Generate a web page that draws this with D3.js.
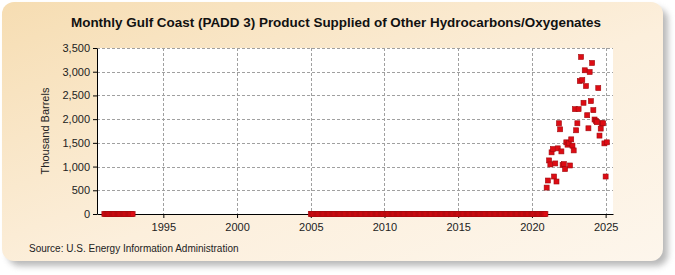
<!DOCTYPE html>
<html>
<head>
<meta charset="utf-8">
<script src="https://cdn.jsdelivr.net/npm/d3@7"></script>
<style>
  body { margin: 0; background: #fff; }
  text { font-family: Arial, "Liberation Sans", sans-serif; }
</style>
</head>
<body>
<div id="chart"></div>
<script>
// zero-valued stretches (monthly), then the recent monthly values (Jan 2021 - Feb 2025)
var zeroSpans = [[1991, 1992], [2005, 2020]];
var recentStart = 2021;
var recentValues = [
  557, 706, 1130, 1045, 1300, 1370, 790, 1066, 685, 1384, 1913, 1786,
  1320, 1031, 1053, 947, 1511, 1462, 1498, 1023, 1574, 1441, 1341, 2210,
  1765, 1913, 2210, 2803, 3311, 2824, 2345, 3030, 2698, 2083, 1807, 2994,
  2380, 3184, 2189, 1992, 1964, 1935, 2655, 1653, 1801, 1913, 1913, 1489,
  790, 1511
];
var xTicks = [1995, 2000, 2005, 2010, 2015, 2020, 2025];
var yTicks = [0, 500, 1000, 1500, 2000, 2500, 3000, 3500];

var width = 675, height = 275;
var margin = {left: 97, right: 62, top: 48, bottom: 61};

// build the point list: t is a fractional year (month start)
var points = [];
zeroSpans.forEach(function (s) {
  for (var y = s[0]; y <= s[1]; y++) {
    for (var m = 0; m < 12; m++) points.push({t: y + m / 12, v: 0});
  }
});
recentValues.forEach(function (v, i) {
  points.push({t: recentStart + i / 12, v: v});
});

var svg = d3.select('#chart').append('svg')
    .attr('width', width)
    .attr('height', height);

var defs = svg.append('defs');
var grad = defs.append('linearGradient').attr('id', 'bg')
    .attr('x1', '0%').attr('y1', '0%').attr('x2', '100%').attr('y2', '100%');
grad.append('stop').attr('offset', '0%').attr('stop-color', '#f6ddb2');
grad.append('stop').attr('offset', '55%').attr('stop-color', '#fcefdc');
grad.append('stop').attr('offset', '100%').attr('stop-color', '#fdf6ec');
var blur = defs.append('filter').attr('id', 'shadow')
    .attr('x', '-5%').attr('y', '-5%').attr('width', '115%').attr('height', '120%');
blur.append('feGaussianBlur').attr('stdDeviation', 3);

// panel with soft shadow
svg.append('rect')
    .attr('x', 8).attr('y', 8).attr('width', 660).attr('height', 258)
    .attr('rx', 12).attr('fill', '#8a8a8a').attr('opacity', 0.6)
    .attr('filter', 'url(#shadow)');
svg.append('rect')
    .attr('x', 2).attr('y', 2).attr('width', 661).attr('height', 259)
    .attr('rx', 12).attr('fill', 'url(#bg)');

var xScale = d3.scaleLinear()
    .domain([1990.5, 2025.5])
    .range([margin.left, width - margin.right]);
var yScale = d3.scaleLinear()
    .domain([0, 3500])
    .range([height - margin.bottom, margin.top]);

// plot background
svg.append('rect')
    .attr('x', margin.left).attr('y', margin.top)
    .attr('width', xScale.range()[1] - margin.left)
    .attr('height', yScale(0) - margin.top)
    .attr('fill', '#fff');

// grid
svg.append('g').selectAll('line').data(yTicks.filter(function (d) { return d > 0; }))
  .enter().append('line')
    .attr('x1', margin.left).attr('x2', xScale.range()[1])
    .attr('y1', function (d) { return Math.round(yScale(d)) + 0.5; })
    .attr('y2', function (d) { return Math.round(yScale(d)) + 0.5; })
    .attr('stroke', '#a0a0a0').attr('stroke-dasharray', '3,2');
svg.append('g').selectAll('line').data(xTicks)
  .enter().append('line')
    .attr('y1', margin.top).attr('y2', yScale(0))
    .attr('x1', function (d) { return Math.round(xScale(d)) + 0.5; })
    .attr('x2', function (d) { return Math.round(xScale(d)) + 0.5; })
    .attr('stroke', '#a0a0a0').attr('stroke-dasharray', '3,2');

// axes
var xAxis = d3.axisBottom(xScale).tickValues(xTicks).tickFormat(d3.format('d'))
    .tickSizeInner(4).tickSizeOuter(0);
var yAxis = d3.axisLeft(yScale).tickValues(yTicks).tickFormat(d3.format(','))
    .tickSizeInner(4).tickSizeOuter(0);

var gx = svg.append('g')
    .attr('transform', 'translate(0,' + yScale(0) + ')')
    .call(xAxis);
var gy = svg.append('g')
    .attr('transform', 'translate(' + margin.left + ',0)')
    .call(yAxis);
[gx, gy].forEach(function (g) {
  g.selectAll('path, line').attr('stroke', '#000');
  g.selectAll('text').attr('fill', '#222').style('font-size', '11px')
      .style('font-family', 'Arial, "Liberation Sans", sans-serif');
});
gx.selectAll('text').attr('dy', '0.95em');

// markers
var size = 5;
svg.append('g').selectAll('rect').data(points)
  .enter().append('rect')
    .attr('x', function (d) { return xScale(d.t) - size / 2; })
    .attr('y', function (d) { return yScale(d.v) - size / 2; })
    .attr('width', size).attr('height', size)
    .attr('fill', '#dd0c14')
    .attr('stroke', '#a00a0e').attr('stroke-width', 0.6);

// title
svg.append('text')
    .attr('x', 336).attr('y', 27)
    .attr('text-anchor', 'middle')
    .attr('textLength', 530).attr('lengthAdjust', 'spacingAndGlyphs')
    .style('font-size', '13px').style('font-weight', 'bold')
    .attr('fill', '#111')
    .text('Monthly Gulf Coast (PADD 3) Product Supplied of Other Hydrocarbons/Oxygenates');

// y label
svg.append('text')
    .attr('transform', 'translate(49,' + (yScale(1750)) + ') rotate(-90)')
    .attr('text-anchor', 'middle')
    .style('font-size', '11px').attr('fill', '#222')
    .text('Thousand Barrels');

// source
svg.append('text')
    .attr('x', 29).attr('y', 252)
    .style('font-size', '10px').attr('fill', '#222')
    .text('Source: U.S. Energy Information Administration');
</script>
</body>
</html>
